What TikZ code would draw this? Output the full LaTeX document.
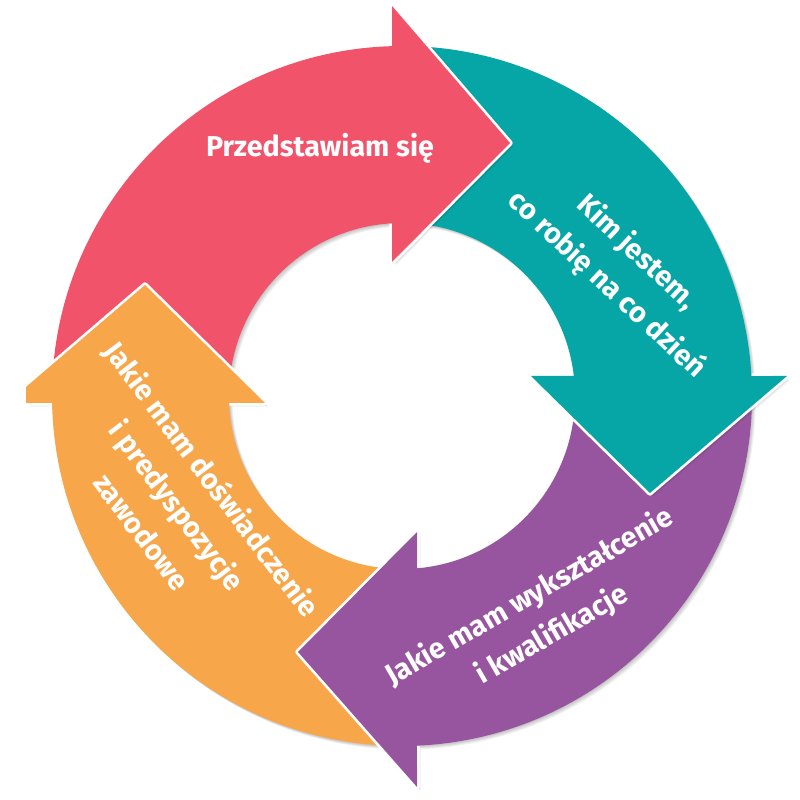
\documentclass[tikz,border=0pt]{standalone}
\usepackage{fontspec}
\setmainfont{Fira Sans}
\usetikzlibrary{calc}
\definecolor{cRed}{RGB}{241,84,106}
\definecolor{cTeal}{RGB}{7,166,166}
\definecolor{cPurple}{RGB}{152,85,159}
\definecolor{cOrange}{RGB}{247,166,74}
\tikzset{
  arrowpath/.style n args={6}{insert path={(180:350) arc[start angle=180, end angle={90-asin(#1/350)}, radius=350] -- (#1,#2) -- ({#1+#6},#2) -- (#4,#5) -- (#1,#3) -- ({90-asin(#1/173)}:173) arc[start angle={90-asin(#1/173)}, end angle=180, radius=173] -- cycle}},
  headedge/.style n args={6}{insert path={({90-asin(#1/350)}:350) -- (#1,#2) -- ({#1+#6},#2) -- (#4,#5) -- (#1,#3) -- ({90-asin(#1/173)}:173)}},
  arrowtext/.style={text=white, font=\bfseries\fontsize{21.5}{33}\selectfont, align=center, inner sep=0pt},
}
% #1 rot, #2 colour, #3 base offset, #4 outer corner, #5 inner corner, #6 tip x, #7 tip y, #8 corner step
\newcommand\onearrow[8]{%
  \foreach \k in {1,2,3,4}{
    \fill[black, opacity=0.06, shift={(402+0.9*\k,404-0.9*\k)}, rotate=#1] [arrowpath={#3}{#4}{#5}{#6}{#7}{#8}];
  }
  \begin{scope}[shift={(402,404)}, rotate=#1]
    \draw[white, line width=4, line join=round] [headedge={#3}{#4}{#5}{#6}{#7}{#8}];
    \fill[#2] [arrowpath={#3}{#4}{#5}{#6}{#7}{#8}];
  \end{scope}
}
\begin{document}
\begin{tikzpicture}[x=0.75pt,y=0.75pt]
\useasboundingbox (0,0) rectangle (800,800);
\coordinate (O) at (402,404);
\onearrow{90}{cOrange}{-7}{376}{137}{111}{257}{16}
\onearrow{180}{cPurple}{-15}{391}{136}{104}{256}{0}
\onearrow{-90}{cTeal}{-20}{385}{129}{97}{248}{0}
\onearrow{0}{cRed}{-10}{390}{134}{108}{253}{0}
\begin{scope}
  \clip[shift={(402,404)}, rotate=90] (-7,-500) rectangle (500,500);
  \onearrow{90}{cOrange}{-7}{376}{137}{111}{257}{16}
\end{scope}
\node[arrowtext] (t1) at (320,652) {Przedstawiam się};
\node[arrowtext, rotate=-43] (t2) at (621.5,531) {Kim jestem,\\co robię na co dzień};
\node[arrowtext, rotate=30] (t3) at (541,184) {Jakie mam wykształcenie\\i kwalifikacje};
\node[arrowtext, rotate=-53] (t4) at (178,295) {Jakie mam doświadczenie\\i predyspozycje\\zawodowe};
\end{tikzpicture}
\end{document}
